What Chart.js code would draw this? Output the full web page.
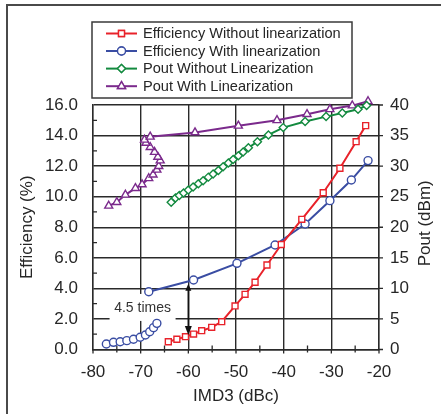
<!DOCTYPE html>
<html><head><meta charset="utf-8">
<script src="https://cdn.jsdelivr.net/npm/chart.js@4.4.1/dist/chart.umd.min.js"></script>
<style>html,body{margin:0;padding:0;background:#fff;}#wrap{position:relative;width:441px;height:414px;}</style>
</head><body><div id="wrap"><canvas id="c" width="441" height="414"></canvas></div>
<script>
// ---------- data ----------
const seriesNames = ["Efficiency Without linearization","Efficiency With linearization","Pout Without Linearization","Pout With Linearization"];
const xTickLabels = [-80,-70,-60,-50,-40,-30,-20];
const effTickLabels = ["0.0","2.0","4.0","6.0","8.0","10.0","12.0","14.0","16.0"];
const poutTickLabels = [0,5,10,15,20,25,30,35,40];

const effWithoutX = [-64.2,-62.4,-60.6,-58.9,-57.2,-55.1,-53.0,-50.2,-48.1,-46.0,-43.5,-40.5,-36.2,-31.7,-28.2,-24.8,-22.8];
const effWithoutY = [0.51,0.67,0.84,1.01,1.23,1.45,1.82,2.85,3.61,4.40,5.53,6.87,8.52,10.26,11.86,13.60,14.65];

const effWithLowX = [-77.2,-75.7,-74.3,-72.9,-71.5,-70.1,-69.0,-68.1,-67.3,-66.6];
const effWithLowY = [0.36,0.47,0.51,0.58,0.67,0.80,0.95,1.16,1.43,1.71];
const effWithHighX = [-68.3,-58.9,-49.8,-41.8,-35.5,-30.3,-25.8,-22.3];
const effWithHighY = [3.78,4.55,5.64,6.84,8.21,9.74,11.09,12.36];

const poutWithoutX = [-63.6,-62.7,-61.9,-61.0,-60.0,-59.0,-57.9,-56.9,-55.8,-54.8,-53.7,-52.7,-51.6,-50.6,-49.5,-48.5,-47.4,-45.5,-43.2,-40.1,-35.5,-31.1,-27.7,-24.4,-22.6];
const poutWithoutY = [24.1,24.8,25.2,25.6,26.1,26.6,27.1,27.6,28.2,28.7,29.3,29.9,30.5,31.1,31.7,32.3,33.0,34.0,35.1,36.3,37.3,38.1,38.7,39.3,39.9];

const poutWithX = [-76.7,-75.0,-73.2,-71.1,-69.7,-68.3,-67.4,-66.6,-66.2,-65.9,-66.4,-67.1,-68.0,-68.9,-69.2,-68.0,-58.6,-49.5,-41.4,-35.1,-30.3,-25.6,-22.3];
const poutWithY = [23.5,24.1,25.3,26.4,27.0,28.0,28.6,29.4,30.0,30.9,31.5,32.3,33.1,33.8,34.3,34.8,35.5,36.6,37.5,38.5,39.3,39.9,40.6];

const arrowX = [-60];
const arrowEff = [4.3, 0.95];
const noteText = ["4.5 times"];
const notePos = [-69.6, 2.72];

// ---------- build ----------
const pts = (xs, ys) => xs.map((x, i) => ({x, y: ys[i]}));
const effWithData = pts(effWithLowX, effWithLowY).concat([{x: null, y: null}], pts(effWithHighX, effWithHighY));

const colors = ['#e8222a', '#3a4da3', '#138a3f', '#7b2a8c'];
const styles = ['rect', 'circle', 'rectRot', 'triangle'];
const radii = [4.2, 4, 4, 4.6];

function ds(i, data, axis) {
  return {label: seriesNames[i], data, yAxisID: axis, showLine: true, spanGaps: false,
    borderColor: colors[i], backgroundColor: '#fff', borderWidth: 2,
    pointStyle: styles[i], pointRadius: radii[i], pointBorderWidth: 1.4,
    pointBackgroundColor: '#fff', pointBorderColor: colors[i], clip: 10};
}

const FONT = '"Liberation Sans", Arial, Helvetica, sans-serif';
const TXT = '#262626';

const deco = {
  id: 'deco',
  beforeDraw(chart) {
    const c = chart.ctx; c.save();
    c.fillStyle = '#fff'; c.fillRect(0, 0, chart.width, chart.height);
    c.strokeStyle = '#4a4a4a'; c.lineWidth = 2;
    c.beginPath(); c.moveTo(7, chart.height); c.lineTo(7, 5); c.lineTo(chart.width, 5); c.stroke();
    c.restore();
  },
  beforeDatasetsDraw(chart) {
    const c = chart.ctx, a = chart.chartArea, xs = chart.scales.x, ys = chart.scales.y;
    c.save();
    c.strokeStyle = '#2a2a2a'; c.lineWidth = 1.3;
    c.beginPath();
    for (let v = -75; v < -20; v += 10) { const px = xs.getPixelForValue(v); c.moveTo(px, a.bottom - 4); c.lineTo(px, a.bottom + 3); }
    for (const v of xTickLabels) { const px = xs.getPixelForValue(v); c.moveTo(px, a.bottom); c.lineTo(px, a.bottom + 4); }
    for (let v = 1; v < 16; v += 2) { const py = ys.getPixelForValue(v); c.moveTo(a.left, py); c.lineTo(a.left + 4, py); }
    for (let v = 0; v <= 16; v += 2) { const py = ys.getPixelForValue(v); c.moveTo(a.right, py); c.lineTo(a.right + 4, py); }
    c.stroke();
    const tx = xs.getPixelForValue(notePos[0]), ty = ys.getPixelForValue(notePos[1]);
    c.fillStyle = '#fff'; c.fillRect(tx - 33, ty - 14, 66, 27);
    c.restore();
  },
  afterDatasetsDraw(chart) {
    const c = chart.ctx, a = chart.chartArea, xs = chart.scales.x, ys = chart.scales.y;
    c.save();
    const ax = xs.getPixelForValue(arrowX[0]);
    const y1 = ys.getPixelForValue(arrowEff[0]), y2 = ys.getPixelForValue(arrowEff[1]);
    c.strokeStyle = '#111'; c.fillStyle = '#111'; c.lineWidth = 1.6;
    c.beginPath(); c.moveTo(ax, y1 + 4); c.lineTo(ax, y2 - 4); c.stroke();
    c.beginPath(); c.moveTo(ax, y2); c.lineTo(ax - 3.5, y2 - 9); c.lineTo(ax + 3.5, y2 - 9); c.closePath(); c.fill();
    c.beginPath(); c.moveTo(ax, y1); c.lineTo(ax - 3, y1 + 7); c.lineTo(ax + 3, y1 + 7); c.closePath(); c.fill();
    c.font = '14px ' + FONT; c.fillStyle = '#333'; c.textAlign = 'center'; c.textBaseline = 'middle';
    c.fillText(noteText[0], xs.getPixelForValue(notePos[0]), ys.getPixelForValue(notePos[1]));
    c.font = '17px ' + FONT; c.fillStyle = TXT;
    const cy = (a.top + a.bottom) / 2;
    c.save(); c.translate(27, cy); c.rotate(-Math.PI / 2); c.fillText('Efficiency (%)', 0, 0); c.restore();
    c.save(); c.translate(425, cy - 4); c.rotate(-Math.PI / 2); c.fillText('Pout (dBm)', 0, 0); c.restore();
    c.fillText('IMD3 (dBc)', (a.left + a.right) / 2, 396);
    c.fillStyle = '#fff'; c.fillRect(92, 22, 260, 76);
    c.strokeStyle = '#3a3a3a'; c.lineWidth = 1.5; c.strokeRect(92, 22, 260, 76);
    const rows = [33.5, 51, 68.6, 86.2];
    c.font = '14.6px ' + FONT; c.textAlign = 'left'; c.textBaseline = 'middle';
    chart.data.datasets.forEach((d, i) => {
      const y = rows[i];
      c.strokeStyle = colors[i]; c.lineWidth = 2;
      c.beginPath(); c.moveTo(106, y); c.lineTo(137, y); c.stroke();
      c.lineWidth = 1.4; c.fillStyle = '#fff';
      Chart.helpers.drawPoint(c, {pointStyle: styles[i], radius: radii[i], rotation: 0, borderWidth: 1.4}, 121.5, y);
      c.fill(); c.stroke();
      c.fillStyle = TXT; c.fillText(seriesNames[i], 143, y + 0.5);
    });
    c.restore();
  }
};

new Chart(document.getElementById('c'), {
  type: 'scatter',
  data: {datasets: [
    ds(0, pts(effWithoutX, effWithoutY), 'y'),
    ds(1, effWithData, 'y'),
    ds(2, pts(poutWithoutX, poutWithoutY), 'y1'),
    ds(3, pts(poutWithX, poutWithY), 'y1')
  ]},
  options: {
    responsive: false, animation: false, devicePixelRatio: 1,
    layout: {padding: {top: 105, left: 0, right: 0, bottom: 0}},
    plugins: {legend: {display: false}, tooltip: {enabled: false}},
    scales: {
      x: {type: 'linear', min: -80, max: -20,
        afterFit: s => { s.height = 64.5; },
        afterBuildTicks: s => { s.ticks = xTickLabels.map(v => ({value: v})); },
        ticks: {stepSize: 10, padding: 13, color: TXT, font: {size: 17, family: FONT}, callback: v => String(v)},
        grid: {color: '#2a2a2a', lineWidth: 1.4, drawTicks: false},
        border: {color: '#2a2a2a', width: 1.4}
      },
      y: {type: 'linear', position: 'left', min: 0, max: 16,
        afterFit: s => { s.width = 93; },
        afterBuildTicks: s => { s.ticks = effTickLabels.map(t => ({value: parseFloat(t)})); },
        ticks: {padding: 15, color: TXT, font: {size: 17, family: FONT}, callback: (v, i) => effTickLabels[i]},
        grid: {color: '#2a2a2a', lineWidth: 1.4, drawTicks: false},
        border: {color: '#2a2a2a', width: 1.4}
      },
      y1: {type: 'linear', position: 'right', min: 0, max: 40,
        afterFit: s => { s.width = 62; },
        afterBuildTicks: s => { s.ticks = poutTickLabels.map(v => ({value: v})); },
        ticks: {padding: 11, color: TXT, font: {size: 17, family: FONT}, callback: v => String(v)},
        grid: {display: false, drawTicks: false},
        border: {color: '#2a2a2a', width: 1.4}
      }
    }
  },
  plugins: [deco]
});
</script></body></html>
